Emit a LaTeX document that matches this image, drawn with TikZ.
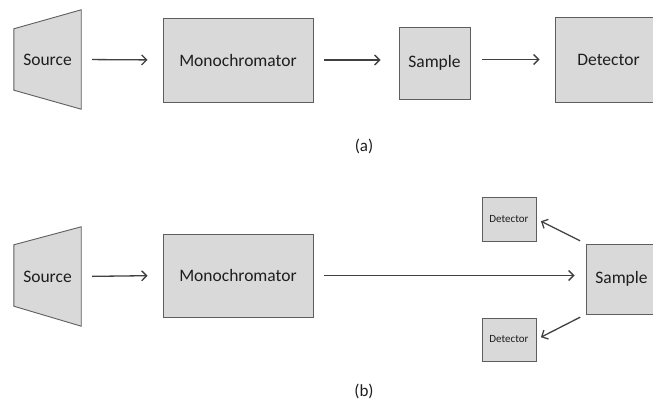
\documentclass[tikz,border=0pt]{standalone}
\usepackage{fontspec}
\setmainfont{Carlito}
\usetikzlibrary{arrows.meta}
\definecolor{boxfill}{HTML}{D9D9D9}
\definecolor{boxline}{HTML}{5E5E5E}
\definecolor{arrowcol}{HTML}{404040}
\definecolor{txt}{HTML}{1E1E1E}
\tikzset{
  unit/.style={draw=boxline, fill=boxfill, line width=0.9pt, inner sep=0pt,
    text=txt, font=\fontsize{17.5}{20}\selectfont},
  smallunit/.style={unit, font=\fontsize{11}{13}\selectfont},
  srclabel/.style={inner sep=0pt, text=txt, font=\fontsize{17.5}{20}\selectfont},
  caption/.style={inner sep=0pt, text=txt, font=\fontsize{17}{20}\selectfont},
  beam/.style={draw=arrowcol, line width=1.3pt,
    -{Straight Barb[length=5pt,width=10pt,line width=1.3pt]}},
  lamp/.style={draw=boxline, fill=boxfill, line width=0.9pt, line join=miter}
}
\begin{document}
\begin{tikzpicture}[x=1pt,y=-1pt]
  \useasboundingbox (0,0) rectangle (653,403);
  \clip (0,0) rectangle (653,403);

  % ---- (a) transmission layout ----
  \node[srclabel, minimum width=67pt, minimum height=99pt] (srcA) at (47.5,59.5) {};
  \draw[lamp] (srcA.north east) -- (srcA.south east)
    -- ([yshift=19pt]srcA.south west) -- ([yshift=-19pt]srcA.north west) -- cycle;
  \node[srclabel] (srcAtext) at (srcA.center) {Source};
  \node[unit, minimum width=150pt, minimum height=84pt] (monoA) at (238,60) {Monochromator};
  \node[unit, minimum width=71pt, minimum height=72pt] (smpA) at (434.5,63) {Sample};
  \node[unit, minimum width=107pt, minimum height=85pt] (detA) at (608.5,59.5) {Detector};

  \draw[beam, shorten <=11pt, shorten >=15pt] (srcA.east) -- (monoA.west);
  \draw[beam, shorten <=11pt, shorten >=18pt] (monoA.east) -- (monoA.east -| smpA.west);
  \draw[beam, shorten <=12pt, shorten >=15pt] (detA.west -| smpA.east) -- (detA.west);

  \node[caption] (capA) at (364,146) {(a)};

  % ---- (b) scattering layout ----
  \node[srclabel, minimum width=67pt, minimum height=99pt] (srcB) at (47.5,276.5) {};
  \draw[lamp] (srcB.north east) -- (srcB.south east)
    -- ([yshift=20pt]srcB.south west) -- ([yshift=-18pt]srcB.north west) -- cycle;
  \node[srclabel] (srcBtext) at (srcB.center) {Source};
  \node[unit, minimum width=150pt, minimum height=83pt] (monoB) at (238,275.5) {Monochromator};
  \node[unit, minimum width=71pt, minimum height=70pt] (smpB) at (621.5,279) {Sample};
  \node[smallunit, minimum width=54pt, minimum height=44pt] (detB1) at (509,219) {Detector};
  \node[smallunit, minimum width=54pt, minimum height=43pt] (detB2) at (509,339.5) {Detector};

  \draw[beam, shorten <=11pt, shorten >=15pt] (srcB.east) -- (monoB.west);
  \draw[beam, shorten <=11pt, shorten >=11pt] (monoB.east) -- (monoB.east -| smpB.west);
  \draw[beam, shorten <=6pt, shorten >=5pt] (smpB.north west) -- (detB1.east);
  \draw[beam, shorten <=6pt, shorten >=5pt] (smpB.south west) -- (detB2.east);

  \node[caption] (capB) at (364,391) {(b)};
\end{tikzpicture}
\end{document}
